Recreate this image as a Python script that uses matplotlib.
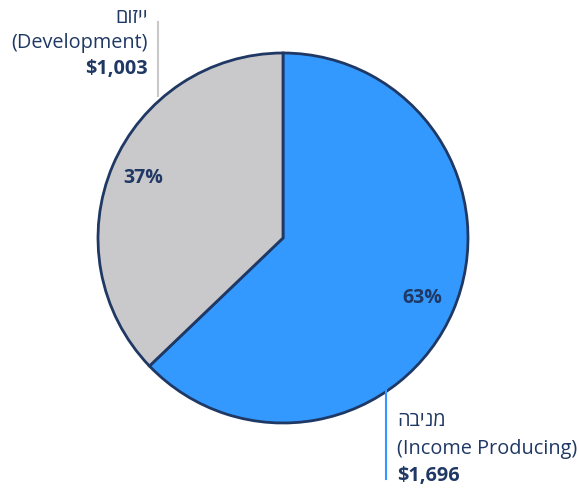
import matplotlib.pyplot as plt

# data
values = [1696, 1003]
colors = ["#3399ff", "#c9c9cb"]
names_he = ["מניבה", "ייזום"]
names_en = ["(Income Producing)", "(Development)"]
amounts = ["$1,696", "$1,003"]

navy = "#1f3864"
fam = ["Open Sans", "DejaVu Sans"]
fs = 14.3

def rtl(s):
    # matplotlib has no bidi, so flip hebrew manually
    return s[::-1]

fig = plt.figure(figsize=(5.79, 4.92), dpi=100)
ax = fig.add_axes([0, 0, 1, 1])

wedges, texts, autotexts = ax.pie(
    values, colors=colors, startangle=90, counterclock=False,
    center=(283, 254), radius=185, autopct="%1.0f%%", pctdistance=0.82,
    wedgeprops=dict(edgecolor=navy, linewidth=2),
    textprops=dict(color=navy, fontsize=14, fontweight="bold", family=fam),
    frame=True)
ax.set_xlim(0, 579)
ax.set_ylim(0, 492)
ax.set_aspect("equal")
ax.axis("off")

# leader lines
ax.plot([158, 158], [492 - 22, 492 - 96], color="#c8c8c8", lw=1.5)
ax.plot([386, 386], [492 - 390, 492 - 479], color="#3399ff", lw=1.5)

# development label (right aligned)
ax.text(148, 492 - 18, rtl(names_he[1]), ha="right", va="center",
        color=navy, fontsize=fs, family=fam)
ax.text(148, 492 - 43, names_en[1], ha="right", va="center",
        color=navy, fontsize=fs, family=fam)
ax.text(148, 492 - 69, amounts[1], ha="right", va="center",
        color=navy, fontsize=fs, fontweight="bold", family=fam)

# income label (left aligned)
ax.text(397, 492 - 421, rtl(names_he[0]), ha="left", va="center",
        color=navy, fontsize=fs, family=fam)
ax.text(397, 492 - 449, names_en[0], ha="left", va="center",
        color=navy, fontsize=fs, family=fam)
ax.text(397, 492 - 476, amounts[0], ha="left", va="center",
        color=navy, fontsize=fs, fontweight="bold", family=fam)

fig.savefig("out.png", dpi=100)
